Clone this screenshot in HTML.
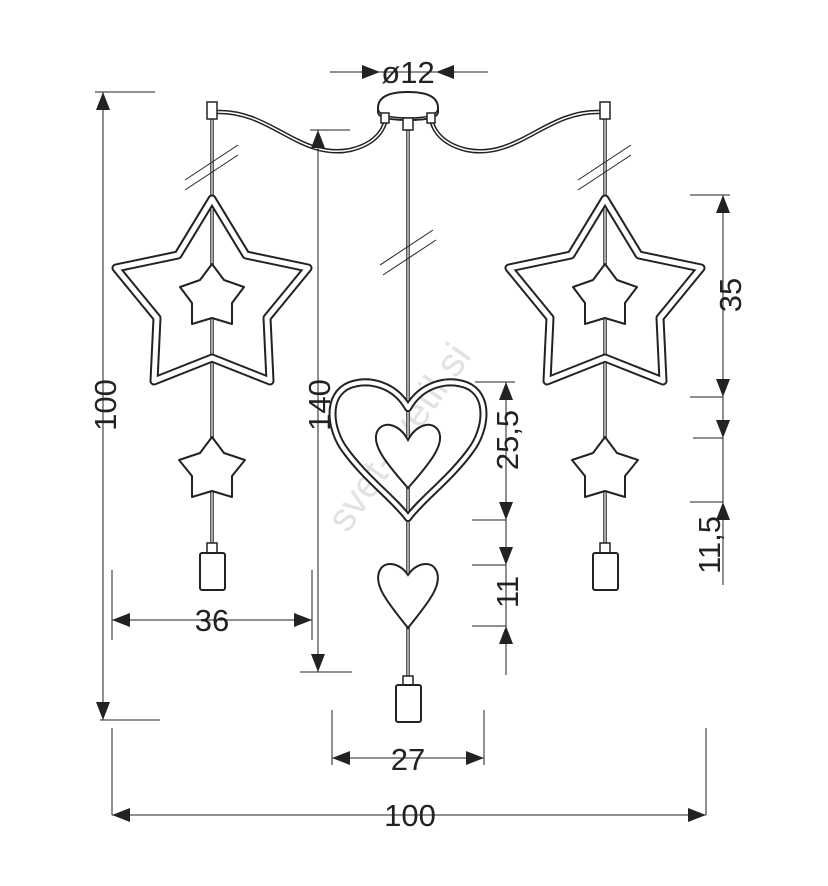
<!DOCTYPE html>
<html><head><meta charset="utf-8"><style>html,body{margin:0;padding:0;background:#fff}svg{display:block}</style></head>
<body>
<svg width="828" height="886" viewBox="0 0 828 886" xmlns="http://www.w3.org/2000/svg" font-family="Liberation Sans, Arial, sans-serif">
<defs>
<g id="lamp">
  <line x1="212" y1="118" x2="212" y2="545" stroke="#222" stroke-width="3.5"/>
  <line x1="212" y1="118" x2="212" y2="545" stroke="#fff" stroke-width="1.2"/>
  <rect x="207" y="102" width="10" height="17" fill="#fff" stroke="#222" stroke-width="1.5"/>
  <line x1="185" y1="180" x2="238" y2="145" stroke="#222" stroke-width="1"/>
  <line x1="185" y1="190" x2="238" y2="155" stroke="#222" stroke-width="1"/>
  <polygon points="212,199 246,255 308,268 267,318 270,381 212,358 154,381 157,318 116,268 178,255" fill="none" stroke="#222" stroke-width="9" stroke-linejoin="round"/>
  <polygon points="212,199 246,255 308,268 267,318 270,381 212,358 154,381 157,318 116,268 178,255" fill="none" stroke="#fff" stroke-width="5" stroke-linejoin="round"/>
  <polygon points="212,264 224,280 244,287 232,303 232,324 212,318 192,324 192,303 180,287 200,280" fill="#fff" stroke="#222" stroke-width="2" stroke-linejoin="round"/>
  <polygon points="212,437 224,453 245,460 232,476 232,497 212,491 192,497 192,476 179,460 200,453" fill="#fff" stroke="#222" stroke-width="2" stroke-linejoin="round"/>
  <rect x="207" y="543" width="10" height="10" fill="#fff" stroke="#222" stroke-width="1.5"/>
  <rect x="200" y="553" width="25" height="37" rx="2" fill="#fff" stroke="#222" stroke-width="2"/>
</g>
</defs>

<!-- watermark -->
<text x="0" y="0" transform="translate(410,445) rotate(-55)" font-size="40" fill="#e2e2e2" text-anchor="middle">svet-svetil.si</text>

<!-- cables -->
<path d="M217,112 C270,110 300,160 350,150 C380,143 385,125 386,118" fill="none" stroke="#222" stroke-width="4.5"/>
<path d="M217,112 C270,110 300,160 350,150 C380,143 385,125 386,118" fill="none" stroke="#fff" stroke-width="1.5"/>
<path d="M600,112 C547,110 517,160 467,150 C437,143 432,125 431,118" fill="none" stroke="#222" stroke-width="4.5"/>
<path d="M600,112 C547,110 517,160 467,150 C437,143 432,125 431,118" fill="none" stroke="#fff" stroke-width="1.5"/>

<!-- canopy -->
<path d="M378,108 Q378,92 408,92 Q438,92 438,108 L438,112 Q438,120 408,120 Q378,120 378,112Z" fill="#fff" stroke="#222" stroke-width="2"/>
<path d="M378,108 Q378,118 408,118 Q438,118 438,108" fill="none" stroke="#222" stroke-width="1.5"/>
<rect x="381" y="113" width="8" height="10" fill="#fff" stroke="#222" stroke-width="1.5"/>
<rect x="427" y="113" width="8" height="10" fill="#fff" stroke="#222" stroke-width="1.5"/>

<use href="#lamp"/>
<use href="#lamp" transform="translate(393,0)"/>

<!-- center -->
<line x1="408" y1="122" x2="408" y2="680" stroke="#222" stroke-width="3.5"/>
<line x1="408" y1="122" x2="408" y2="680" stroke="#fff" stroke-width="1.2"/>
<rect x="403" y="118" width="10" height="12" fill="#fff" stroke="#222" stroke-width="1.5"/>
<line x1="380" y1="265" x2="433" y2="230" stroke="#222" stroke-width="1"/>
<line x1="383" y1="275" x2="436" y2="240" stroke="#222" stroke-width="1"/>
<path d="M408,408 C395,385 370,378 350,385 C325,395 330,430 345,450 C365,478 395,500 408,518 C421,500 451,478 471,450 C486,430 491,395 466,385 C446,378 421,385 408,408Z" fill="none" stroke="#222" stroke-width="8" stroke-linejoin="round"/>
<path d="M408,408 C395,385 370,378 350,385 C325,395 330,430 345,450 C365,478 395,500 408,518 C421,500 451,478 471,450 C486,430 491,395 466,385 C446,378 421,385 408,408Z" fill="none" stroke="#fff" stroke-width="4" stroke-linejoin="round"/>
<path d="M408,440 C400,425 385,420 378,430 C370,443 385,462 408,488 C431,462 446,443 438,430 C431,420 416,425 408,440Z" fill="#fff" stroke="#222" stroke-width="2"/>
<path d="M408,575 C400,563 385,560 380,570 C372,585 390,605 408,628 C426,605 444,585 436,570 C431,560 416,563 408,575Z" fill="#fff" stroke="#222" stroke-width="2"/>
<rect x="403" y="676" width="10" height="10" fill="#fff" stroke="#222" stroke-width="1.5"/>
<rect x="396" y="685" width="25" height="37" rx="2" fill="#fff" stroke="#222" stroke-width="2"/>

<!-- dimensions -->
<g stroke="#222" stroke-width="1" fill="none">
  <line x1="330" y1="72" x2="488" y2="72"/>
  <line x1="95" y1="92" x2="155" y2="92"/><line x1="103" y1="92" x2="103" y2="720"/><line x1="100" y1="720" x2="160" y2="720"/>
  <line x1="310" y1="130" x2="350" y2="130"/><line x1="318" y1="130" x2="318" y2="672"/><line x1="300" y1="672" x2="352" y2="672"/>
  <line x1="112" y1="570" x2="112" y2="640"/><line x1="312" y1="570" x2="312" y2="640"/><line x1="112" y1="620" x2="312" y2="620"/>
  <line x1="332" y1="710" x2="332" y2="765"/><line x1="484" y1="710" x2="484" y2="765"/><line x1="332" y1="758" x2="484" y2="758"/>
  <line x1="112" y1="728" x2="112" y2="815"/><line x1="706" y1="728" x2="706" y2="815"/><line x1="112" y1="815" x2="706" y2="815"/>
  <line x1="475" y1="382" x2="515" y2="382"/><line x1="506" y1="382" x2="506" y2="675"/>
  <line x1="472" y1="520" x2="506" y2="520"/><line x1="472" y1="565" x2="506" y2="565"/><line x1="472" y1="626" x2="506" y2="626"/>
  <line x1="690" y1="195" x2="730" y2="195"/><line x1="723" y1="195" x2="723" y2="585"/>
  <line x1="690" y1="397" x2="723" y2="397"/><line x1="693" y1="438" x2="723" y2="438"/><line x1="690" y1="502" x2="723" y2="502"/>
</g>
<g fill="#222">
  <polygon points="380,72 362,65 362,79"/><polygon points="436,72 454,65 454,79"/>
  <polygon points="103,92 96,110 110,110"/><polygon points="103,720 96,702 110,702"/>
  <polygon points="318,130 311,148 325,148"/><polygon points="318,672 311,654 325,654"/>
  <polygon points="112,620 130,613 130,627"/><polygon points="312,620 294,613 294,627"/>
  <polygon points="332,758 350,751 350,765"/><polygon points="484,758 466,751 466,765"/>
  <polygon points="112,815 130,808 130,822"/><polygon points="706,815 688,808 688,822"/>
  <polygon points="506,382 499,400 513,400"/><polygon points="506,520 499,502 513,502"/>
  <polygon points="506,565 499,547 513,547"/><polygon points="506,626 499,644 513,644"/>
  <polygon points="723,195 716,213 730,213"/><polygon points="723,397 716,379 730,379"/>
  <polygon points="723,438 716,420 730,420"/><polygon points="723,502 716,520 730,520"/>
</g>
<g font-size="31" fill="#222" text-anchor="middle">
  <text x="408" y="83">ø12</text>
  <text x="212" y="631">36</text>
  <text x="408" y="770">27</text>
  <text x="410" y="826">100</text>
  <text transform="translate(116,405) rotate(-90)">100</text>
  <text transform="translate(330,405) rotate(-90)">140</text>
  <text transform="translate(518,440) rotate(-90)">25,5</text>
  <text transform="translate(518,592) rotate(-90)">11</text>
  <text transform="translate(741,295) rotate(-90)">35</text>
  <text transform="translate(720,545) rotate(-90)">11,5</text>
</g>
</svg>
</body></html>
